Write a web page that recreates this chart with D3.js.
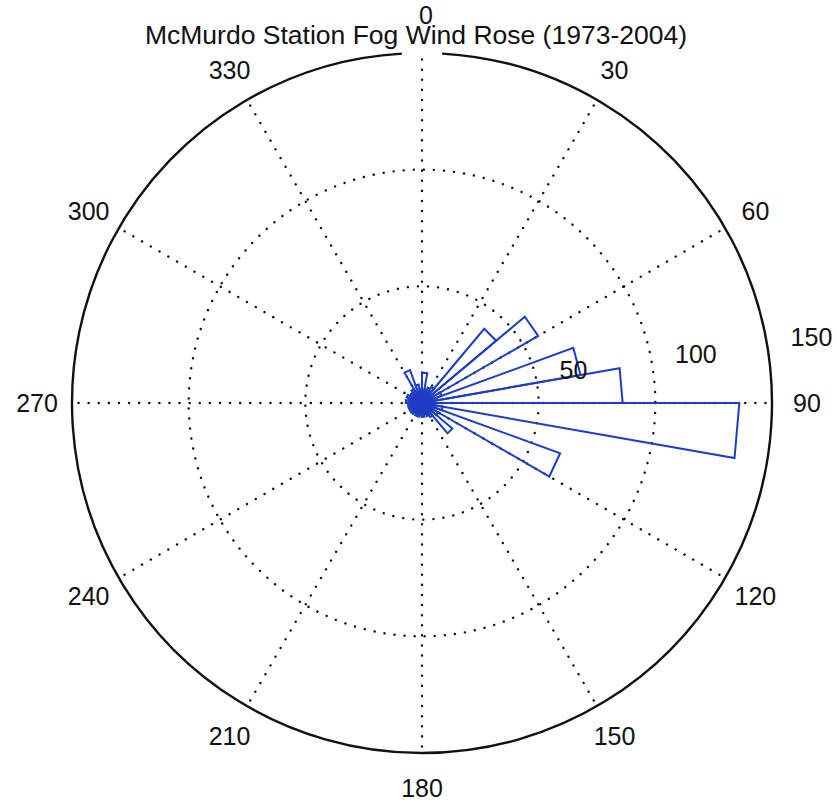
<!DOCTYPE html>
<html>
<head>
<meta charset="utf-8">
<script src="https://cdn.jsdelivr.net/npm/d3@7"></script>
<style>
  html, body { margin: 0; padding: 0; background: #fff; }
  svg { display: block; }
  text { font-family: "Liberation Sans", Arial, Helvetica, sans-serif; fill: #111; }
</style>
</head>
<body>
<script>
// ---- data ----
const title = "McMurdo Station Fog Wind Rose (1973-2004)";
// start direction (degrees, compass, clockwise from north) of each 10° bin
const binStart = [0,10,20,30,40,50,60,70,80,90,100,110,120,130,140,150,160,170,
                  180,190,200,210,220,230,240,250,260,270,280,290,300,310,320,330,340,350];
const binWidth = 10;
// fog observation count in each bin
const counts = [13,6,7,8,41.5,57.5,9,69,86,136,9,63,8,17,7,6,5,6,
                5,6,6,5,6,6,6,6,6,7,6,7,6,6,7,15,8,6];
const ringValues = [50,100,150];
const ringLabels = ["50","100","150"];
const spokeAngles = [0,30,60,90,120,150,180,210,240,270,300,330];
const spokeLabels = ["0","30","60","90","120","150","180","210","240","270","300","330"];

// ---- drawing ----
const W = 836, H = 801;
const cx = 422, cy = 403, R = 350;
const svg = d3.select("body").append("svg").attr("width", W).attr("height", H);
const g = svg.append("g").attr("transform", `translate(${cx},${cy})`);

const r = d3.scaleLinear().domain([0, 150]).range([0, R]);
const toRad = d => d * Math.PI / 180;
const pt = (deg, rad) => [rad * Math.sin(toRad(deg)), -rad * Math.cos(toRad(deg))];

const dotted = { stroke: "#111", "stroke-width": 2.4, "stroke-dasharray": "0.1 10", "stroke-linecap": "round", fill: "none" };
const applyAttrs = (sel, o) => { Object.entries(o).forEach(([k, v]) => sel.attr(k, v)); return sel; };

// dotted rings
applyAttrs(g.selectAll("circle.ring").data(ringValues.slice(0, 2)).join("circle")
  .attr("class", "ring").attr("r", d => r(d)), dotted);

// dotted spokes
applyAttrs(g.selectAll("line.spoke").data(spokeAngles).join("line")
  .attr("class", "spoke")
  .attr("x1", 0).attr("y1", 0)
  .attr("x2", d => pt(d, R)[0]).attr("y2", d => pt(d, R)[1]), dotted);

// outer solid circle (with gap under the "0" label)
const arc = d3.arc().innerRadius(R).outerRadius(R).startAngle(toRad(3.3)).endAngle(toRad(356.7));
g.append("path").attr("d", arc()).attr("fill", "none").attr("stroke", "#111").attr("stroke-width", 2.4);

// rose wedges (MATLAB rose style: straight chords)
const line = d3.line();
g.selectAll("path.wedge").data(binStart.map((s, i) => ({ s, v: counts[i] }))).join("path")
  .attr("class", "wedge")
  .attr("d", d => line([[0, 0], pt(d.s, r(d.v)), pt(d.s + binWidth, r(d.v)), [0, 0]]))
  .attr("fill", "none")
  .attr("stroke", "#1f3cc4")
  .attr("stroke-width", 2)
  .attr("stroke-linejoin", "miter");

// ring labels
g.selectAll("text.rl").data(ringValues).join("text")
  .attr("class", "rl")
  .attr("x", d => pt(82, r(d))[0] + 22)
  .attr("y", d => pt(82, r(d))[1] - 17)
  .attr("dominant-baseline", "central")
  .attr("font-size", 25)
  .text((d, i) => ringLabels[i]);

// angle labels
const LR = 385;
g.selectAll("text.al").data(spokeAngles).join("text")
  .attr("class", "al")
  .attr("x", d => pt(d, LR)[0] + (d === 0 ? 4 : 0))
  .attr("y", d => pt(d, LR)[1] + (d === 0 ? -3 : 0))
  .attr("text-anchor", "middle")
  .attr("dominant-baseline", "central")
  .attr("font-size", 25)
  .text((d, i) => spokeLabels[i]);

// title
svg.append("text").attr("x", 416).attr("y", 35)
  .attr("text-anchor", "middle").attr("dominant-baseline", "central")
  .attr("font-size", 26.5)
  .text(title);
</script>
</body>
</html>
